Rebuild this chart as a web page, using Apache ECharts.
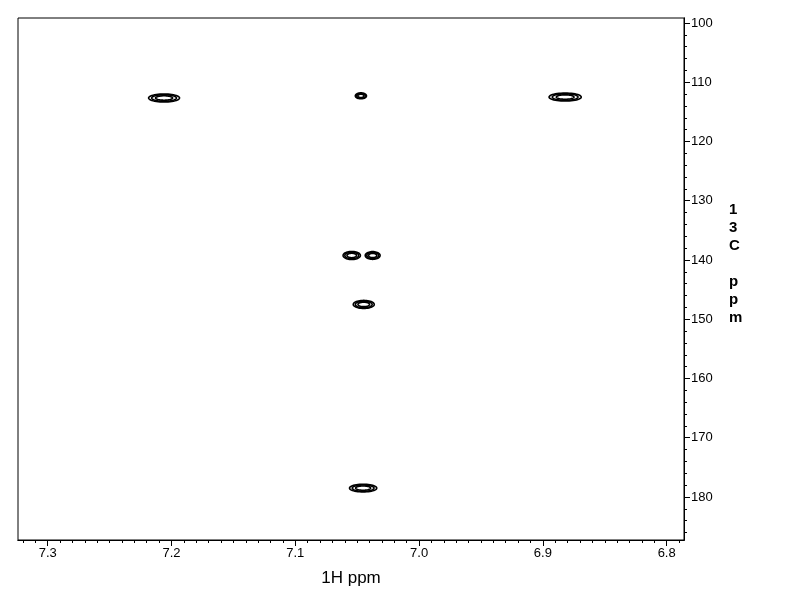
<!DOCTYPE html>
<html>
<head>
<meta charset="utf-8">
<script src="https://cdn.jsdelivr.net/npm/echarts@6/dist/echarts.min.js"></script>
<style>
html,body{margin:0;padding:0;background:#fff;}
#chart{width:792px;height:612px;}
</style>
</head>
<body>
<div id="chart"></div>
<script>
// Cross peaks: 1H shift (ppm), 13C shift (ppm), outer contour full width in each dimension (ppm)
const peakH  = [7.206, 7.047, 6.882, 7.0544, 7.0375, 7.0447, 7.0452];
const peakC  = [112.66, 112.3, 112.5, 139.24, 139.24, 147.5, 178.5];
const widthH = [0.025, 0.009, 0.026, 0.014, 0.012, 0.017, 0.022];
const widthC = [1.35, 1.0, 1.35, 1.35, 1.3, 1.35, 1.3];
const contourLevels = [1.0, 0.8, 0.55];

// Axis ranges and ticks
const xMin = 6.786, xMax = 7.324;
const yMin = 99.16, yMax = 187.26;
const xLabels = [6.8, 6.9, 7.0, 7.1, 7.2, 7.3];
const xMinorTicks = [];
for (let i = 679; i <= 732; i++) xMinorTicks.push(+(i / 100).toFixed(2));
const yLabels = [100, 110, 120, 130, 140, 150, 160, 170, 180];
const yMinorTicks = [];
for (let v = 100; v <= 186; v += 2) yMinorTicks.push(v);

const peaks = peakH.map((h, i) => [h, peakC[i], widthH[i], widthC[i]]);

const chart = echarts.init(document.getElementById('chart'), null, {renderer: 'canvas'});
const font = 'Liberation Sans, Arial, sans-serif';

const baseX = {
  type: 'value', min: xMin, max: xMax, inverse: true, position: 'bottom',
  splitLine: {show: false},
  axisLine: {show: true, onZero: false, lineStyle: {color: '#000', width: 1}}
};
const baseY = {
  type: 'value', min: yMin, max: yMax, inverse: true, position: 'right',
  splitLine: {show: false},
  axisLine: {show: true, onZero: false, lineStyle: {color: '#000', width: 1}}
};

chart.setOption({
  animation: false,
  backgroundColor: '#fff',
  grid: {left: 18, top: 18, right: 108, bottom: 72, show: true, borderColor: '#000', borderWidth: 1, backgroundColor: 'transparent'},
  xAxis: [
    Object.assign({}, baseX, {
      axisTick: {show: true, length: 6, inside: false, customValues: xLabels, lineStyle: {color: '#000'}},
      axisLabel: {show: true, customValues: xLabels, color: '#000', fontSize: 13, fontFamily: font, margin: 7,
        formatter: v => v.toFixed(1)},
      name: '1H ppm', nameLocation: 'middle', nameGap: 30,
      nameTextStyle: {color: '#000', fontSize: 17, fontFamily: font}
    }),
    Object.assign({}, baseX, {
      axisTick: {show: true, length: 3, inside: false, customValues: xMinorTicks, lineStyle: {color: '#000'}},
      axisLabel: {show: false}
    })
  ],
  yAxis: [
    Object.assign({}, baseY, {
      axisTick: {show: true, length: 6, inside: false, customValues: yLabels, lineStyle: {color: '#000'}},
      axisLabel: {show: true, customValues: yLabels, color: '#000', fontSize: 13, fontFamily: font, margin: 7}
    }),
    Object.assign({}, baseY, {
      axisTick: {show: true, length: 3, inside: false, customValues: yMinorTicks, lineStyle: {color: '#000'}},
      axisLabel: {show: false}
    })
  ],
  graphic: [{
    type: 'text', left: 729, top: 201,
    style: {text: '1\n3\nC\n\np\np\nm', fill: '#000', font: 'bold 15px ' + font, lineHeight: 18, textAlign: 'left'}
  }],
  series: [{
    type: 'custom',
    xAxisIndex: 0, yAxisIndex: 0,
    data: peaks,
    encode: {x: 0, y: 1},
    clip: true,
    renderItem: function (params, api) {
      const h = api.value(0), c = api.value(1), wh = api.value(2) / 2, wc = api.value(3) / 2;
      const children = contourLevels.map(level => {
        const pts = [];
        const n = 48;
        for (let k = 0; k < n; k++) {
          const t = 2 * Math.PI * k / n;
          pts.push(api.coord([h + wh * level * Math.cos(t), c + wc * level * Math.sin(t)]));
        }
        return {
          type: 'polygon',
          shape: {points: pts},
          style: {fill: 'none', stroke: '#000', lineWidth: 1.6}
        };
      });
      return {type: 'group', children: children};
    }
  }]
});
</script>
</body>
</html>
